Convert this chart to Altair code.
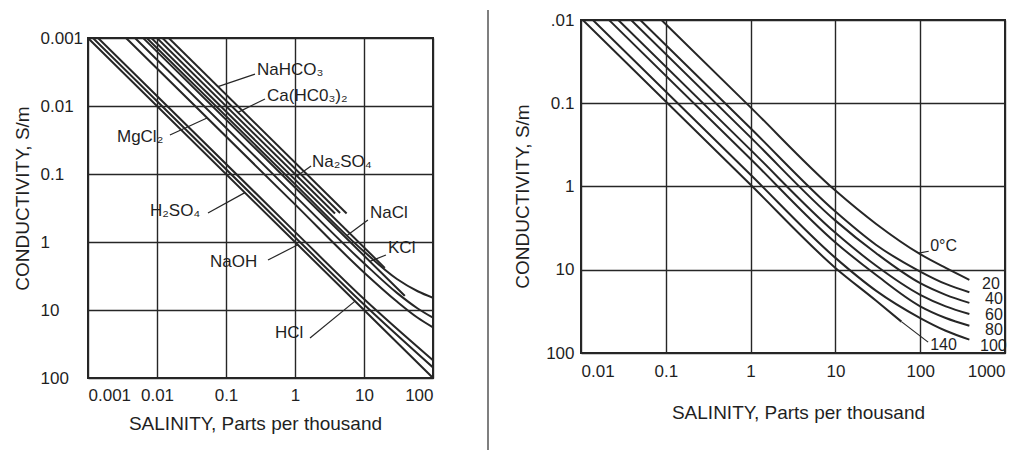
import altair as alt
import pandas as pd

FONT = "Liberation Sans"
INK = "#262626"
TXT = "#1f1f1f"

# ---------------- Left panel: conductivity of salt solutions ----------------
L_TICKS = [0.001, 0.01, 0.1, 1, 10, 100]
L_TICK_LABELS = ["0.001", "0.01", "0.1", "1", "10", "100"]

HCL_X = [0.001, 1, 100]
HCL_Y = [0.001, 1.0, 100]
NAOH_X = [0.00118, 1, 10, 100]
NAOH_Y = [0.001, 0.85, 8.3, 70]
H2SO4_X = [0.0014, 1, 10, 100]
H2SO4_Y = [0.001, 0.71, 6.9, 55]
MGCL2_X = [0.00355, 1, 10, 30, 60, 100]
MGCL2_Y = [0.001, 0.28, 2.8, 7.5, 13, 18]
SALT5_X = [0.0048, 1, 10, 30, 60, 100]
SALT5_Y = [0.001, 0.21, 2.05, 5.6, 9.5, 13]
KCL_X = [0.0063, 1, 39]
KCL_Y = [0.001, 0.158, 6.2]
NACL_X = [0.0071, 1, 10, 30, 60, 100]
NACL_Y = [0.001, 0.141, 1.38, 3.5, 5.3, 6.6]
SALT8_X = [0.0083, 20]
SALT8_Y = [0.001, 2.4]
NA2SO4_X = [0.01, 3.8]
NA2SO4_Y = [0.001, 0.38]
CAHCO3_X = [0.012, 4.5]
CAHCO3_Y = [0.001, 0.375]
NAHCO3_X = [0.0148, 5.6]
NAHCO3_Y = [0.001, 0.38]

L_NAMES = ["HCl", "NaOH", "H2SO4", "MgCl2", "s5", "KCl", "NaCl", "s8",
           "Na2SO4", "CaHCO3", "NaHCO3"]
L_XS = [HCL_X, NAOH_X, H2SO4_X, MGCL2_X, SALT5_X, KCL_X, NACL_X, SALT8_X,
        NA2SO4_X, CAHCO3_X, NAHCO3_X]
L_YS = [HCL_Y, NAOH_Y, H2SO4_Y, MGCL2_Y, SALT5_Y, KCL_Y, NACL_Y, SALT8_Y,
        NA2SO4_Y, CAHCO3_Y, NAHCO3_Y]

L_LABELS = ["NaHCO₃", "Ca(HC0₃)₂", "MgCl₂", "Na₂SO₄", "H₂SO₄", "NaCl", "KCl",
            "NaOH", "HCl"]
L_LABEL_X = [0.281, 0.393, 0.00263, 1.76, 0.0079, 12.2, 22.3, 0.0586, 0.513]
L_LABEL_Y = [0.00295, 0.00713, 0.0286, 0.0667, 0.35, 0.375, 1.22, 1.97, 21.8]
L_LEAD_X1 = [0.263, 0.367, 0.0154, 1.71, 0.0548, 11.4, 20.8, 0.406, 1.65]
L_LEAD_Y1 = [0.0034, 0.00789, 0.0267, 0.0762, 0.375, 0.474, 1.55, 1.84, 25.8]
L_LEAD_X2 = [0.0766, 0.149, 0.0531, 1.07, 0.188, 5.67, 12.2, 1.10, 7.41]
L_LEAD_Y2 = [0.00518, 0.0124, 0.0150, 0.107, 0.188, 0.80, 1.93, 1.10, 7.41]

# ---------------- Right panel: NaCl solution vs temperature ----------------
R_X_TICKS = [0.01, 0.1, 1, 10, 100, 1000]
R_X_TICK_LABELS = ["0.01", "0.1", "1", "10", "100", "1000"]
R_Y_TICKS = [0.01, 0.1, 1, 10, 100]
R_Y_TICK_LABELS = [".01", "0.1", "1", "10", "100"]

T0_X = [0.089, 1, 10, 30, 100, 200, 380]
T0_Y = [0.01, 0.112, 1.12, 2.8, 6.5, 9.5, 13.2]
T20_X = [0.05, 1, 10, 30, 100, 200, 380]
T20_Y = [0.01, 0.2, 2.0, 5.0, 10.5, 14.8, 18.6]
T40_X = [0.039, 1, 10, 30, 100, 200, 380]
T40_Y = [0.01, 0.257, 2.57, 6.3, 14.5, 20, 25]
T60_X = [0.0275, 1, 10, 30, 100, 200, 380]
T60_Y = [0.01, 0.363, 3.6, 8.9, 20, 27.5, 34]
T80_X = [0.0214, 1, 10, 30, 100, 200, 380]
T80_Y = [0.01, 0.468, 4.7, 11.5, 27.5, 38, 47]
T100_X = [0.0138, 1, 10, 30, 100, 200, 380]
T100_Y = [0.01, 0.724, 7.2, 17.8, 38, 54, 69]
T140_X = [0.0105, 1, 10, 30, 60]
T140_Y = [0.01, 0.955, 9.5, 23.4, 42]

R_NAMES = ["0", "20", "40", "60", "80", "100", "140"]
R_XS = [T0_X, T20_X, T40_X, T60_X, T80_X, T100_X, T140_X]
R_YS = [T0_Y, T20_Y, T40_Y, T60_Y, T80_Y, T100_Y, T140_Y]

R_LABELS = ["0°C", "20", "40", "60", "80", "100", "140"]
R_LABEL_X = [131, 536, 581, 581, 581, 507, 131]
R_LABEL_Y = [5.19, 14.8, 22.4, 35, 53, 82, 80]
R_LEAD_X1 = [96, 124]
R_LEAD_Y1 = [6.3, 74]
R_LEAD_X2 = [126, 60]
R_LEAD_Y2 = [6.0, 42]


def series_frame(names, xs_list, ys_list):
    rows = []
    for name, xs, ys in zip(names, xs_list, ys_list):
        for i, (x, y) in enumerate(zip(xs, ys)):
            rows.append({"series": name, "x": x, "y": y, "k": i})
    return pd.DataFrame(rows)


def label_expr(ticks, labels):
    arr = "[" + ",".join("'" + s + "'" for s in labels) + "]"
    vals = "[" + ",".join(repr(v) for v in ticks) + "]"
    return arr + "[indexof(" + vals + ", datum.value)]"


AXIS_COMMON = dict(
    grid=True, gridColor=INK, gridWidth=1.4, gridOpacity=1,
    ticks=False, tickSize=0, domain=False,
    labelFont=FONT, labelFontSize=17, labelColor=TXT, labelOverlap=False,
    titleFont=FONT, titleFontSize=19, titleFontWeight="normal", titleColor=TXT,
    titleBaseline="middle", titleAlign="center",
)


def panel(lines, labels, leaders, xdom, ydom, xticks, xlabels, yticks, ylabels,
          w, h, xaxis_extra, yaxis_extra, label_size=17, extra_layers=()):
    xs = alt.Scale(type="log", domain=xdom, nice=False)
    ys = alt.Scale(type="log", domain=ydom, reverse=True, nice=False)
    xa = alt.Axis(values=xticks, labelExpr=label_expr(xticks, xlabels),
                  title="SALINITY, Parts per thousand", **AXIS_COMMON, **xaxis_extra)
    ya = alt.Axis(values=yticks, labelExpr=label_expr(yticks, ylabels),
                  title="CONDUCTIVITY, S/m", titleAngle=270,
                  **AXIS_COMMON, **yaxis_extra)
    X = alt.X("x:Q", scale=xs, axis=xa)
    Y = alt.Y("y:Q", scale=ys, axis=ya)

    line_layer = alt.Chart(lines).mark_line(
        interpolate="monotone", color=INK, strokeWidth=2, clip=True
    ).encode(x=X, y=Y, detail="series:N", order="k:Q")

    lead_layer = alt.Chart(leaders).mark_rule(color=INK, strokeWidth=1.2).encode(
        x=X, y=Y, x2="x2:Q", y2="y2:Q")

    text_layer = alt.Chart(labels).mark_text(
        align="left", baseline="middle", font=FONT, fontSize=label_size, color=TXT
    ).encode(x=X, y=Y, text="label:N")

    layers = [line_layer, lead_layer, text_layer] + list(extra_layers)
    return alt.layer(*layers).properties(width=w, height=h)


left_lines = series_frame(L_NAMES, L_XS, L_YS)
left_labels = pd.DataFrame({"label": L_LABELS, "x": L_LABEL_X, "y": L_LABEL_Y})
left_leaders = pd.DataFrame({"x": L_LEAD_X1, "y": L_LEAD_Y1,
                             "x2": L_LEAD_X2, "y2": L_LEAD_Y2})

right_lines = series_frame(R_NAMES, R_XS, R_YS)
right_labels = pd.DataFrame({"label": R_LABELS, "x": R_LABEL_X, "y": R_LABEL_Y})
right_leaders = pd.DataFrame({"x": R_LEAD_X1, "y": R_LEAD_Y1,
                              "x2": R_LEAD_X2, "y2": R_LEAD_Y2})

# vertical separator between the two figures (drawn with the right panel)
divider = alt.Chart(pd.DataFrame({"d": [0]})).mark_rule(
    color="#555555", strokeWidth=1.5
).encode(x=alt.value(-93), y=alt.value(-10), y2=alt.value(430))

left = panel(
    left_lines, left_labels, left_leaders,
    [0.001, 100], [0.001, 100], L_TICKS, L_TICK_LABELS, L_TICKS, L_TICK_LABELS,
    345, 340,
    dict(labelPadding=9, titleX=167, titleY=45),
    dict(labelAlign="left", labelPadding=48, labelBaseline="middle",
         titleX=-66, titleY=160),
)

right = panel(
    right_lines, right_labels, right_leaders,
    [0.01, 1000], [0.01, 100], R_X_TICKS, R_X_TICK_LABELS, R_Y_TICKS, R_Y_TICK_LABELS,
    424, 333,
    dict(labelPadding=10, titleX=217, titleY=59),
    dict(labelAlign="right", labelPadding=7, labelBaseline="middle",
         titleX=-59, titleY=176),
    label_size=16,
    extra_layers=[divider],
)

# empty spacer that lowers the left figure relative to the right one
spacer = alt.Chart(pd.DataFrame({"d": [0]})).mark_point(opacity=0).encode(
    x=alt.value(0), y=alt.value(0)
).properties(width=1, height=7, view=alt.ViewBackground(stroke="transparent"))

left_col = alt.vconcat(spacer, left, spacing=0)

chart = alt.hconcat(left_col, right, spacing=52).properties(
    padding={"left": 4, "top": 0, "right": 0, "bottom": 0},
    background="white",
).configure_view(stroke=INK, strokeWidth=2)

chart.save("out.html", embed_options={"renderer": "svg", "actions": False})
